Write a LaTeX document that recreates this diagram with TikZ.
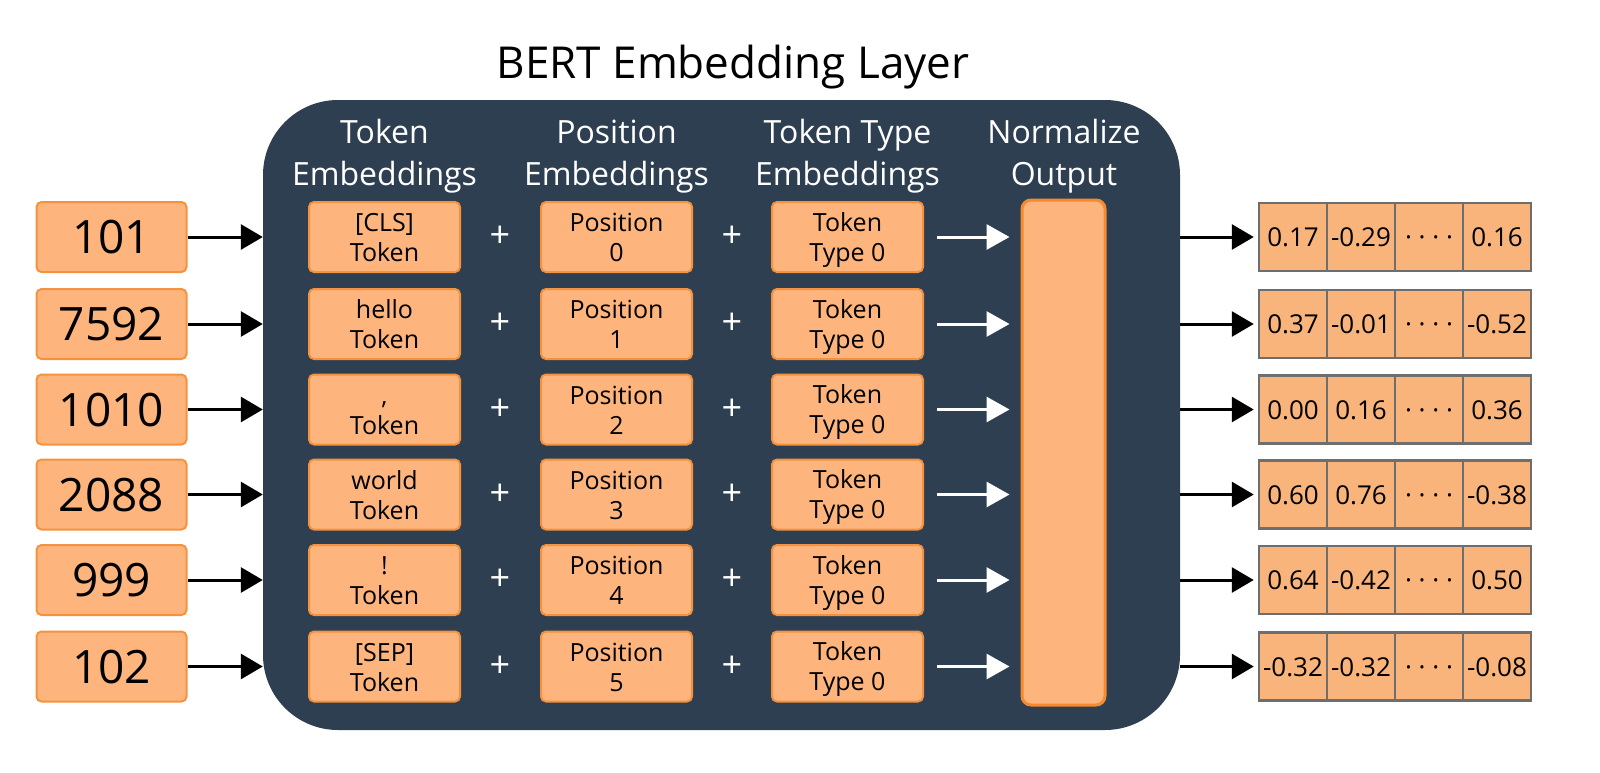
\documentclass[tikz,border=0pt]{standalone}
\usepackage{fontspec}
\setmainfont{Open Sans}
\usetikzlibrary{arrows.meta}
\definecolor{darkbg}{HTML}{2F3F52}
\definecolor{peachfill}{HTML}{FDB47D}
\definecolor{peachline}{HTML}{F5923E}
\definecolor{normline}{HTML}{F68A2E}
\definecolor{cellfill}{HTML}{F8B47B}
\definecolor{cellline}{HTML}{6E6E6E}
\newcommand\bxtop{\rule{0pt}{24pt}}
\newcommand\bxbot{\rule[-5pt]{0pt}{5pt}}
\newcommand\hdtop{\rule{0pt}{30pt}}
\newcommand\hdbot{\rule[-8pt]{0pt}{8pt}}
\tikzset{
  layerbox/.style={fill=darkbg, draw=none, rounded corners=75pt, minimum width=917pt, minimum height=630pt, inner sep=0pt},
  hdr/.style={text=white, align=center, inner sep=0pt, font=\fontsize{32}{42}\selectfont},
  inbox/.style={fill=peachfill, draw=peachline, line width=2pt, rounded corners=5pt, minimum width=150pt, minimum height=70pt, inner sep=0pt, text height=33pt, text depth=0pt, font=\fontsize{46}{50}\selectfont},
  embox/.style={fill=peachfill, draw=peachline, line width=2pt, rounded corners=5pt, minimum width=151pt, minimum height=70pt, inner sep=0pt, align=center, font=\fontsize{25}{30}\selectfont},
  normbox/.style={fill=peachfill, draw=normline, line width=3pt, rounded corners=9pt, minimum width=83pt, minimum height=505pt, inner sep=0pt},
  plus/.style={text=white, inner sep=0pt, font=\fontsize{36}{40}\selectfont},
  cell/.style={fill=cellfill, draw=cellline, line width=2.5pt, minimum width=68pt, minimum height=68pt, inner sep=0pt, text height=19pt, text depth=0pt, font=\fontsize{26}{30}\selectfont},
  blk/.style={draw=black, line width=3pt, -{Triangle[length=22pt,width=25pt]}},
  wht/.style={draw=white, line width=3pt, -{Triangle[length=23pt,width=25pt]}},
}
\newcommand\bertrow[7]{%
  \node[inbox] (in#1) at (111.5,#2) {#3};
  \node[embox] (tok#1) at (384.5,#2) {\bxtop #4\\Token\bxbot};
  \node[plus] (pa#1) at (500,#2) {+};
  \node[embox] (pos#1) at (616.5,#2) {\bxtop Position\\#1\bxbot};
  \node[plus] (pb#1) at (732,#2) {+};
  \node[embox] (typ#1) at (847.5,#2) {\bxtop Token\\Type 0\bxbot};
  \node[cell] (c#1a) at (1293,#2) {#5};
  \node[cell] (c#1b) at (1361,#2) {#6};
  \node[cell] (c#1c) at (1429,#2) {· · · ·};
  \node[cell] (c#1d) at (1497,#2) {#7};
  \draw[blk] (in#1.east) -- (in#1.east -| layer.west);
  \draw[wht, shorten <=13pt, shorten >=11pt] (typ#1.east) -- (typ#1.east -| norm.west);
  \draw[blk, shorten >=4pt] (c#1a.west -| layer.east) -- (c#1a.west);
}
\begin{document}
\begin{tikzpicture}[x=1pt,y=-1pt]
\useasboundingbox (0,0) rectangle (1600,772);
\node[anchor=base, font=\fontsize{44}{50}\selectfont] (title) at (733,78) {BERT Embedding Layer};
\node[layerbox] (layer) at (721.5,415) {};
\node[hdr] (h1) at (384.5,153) {\hdtop Token\\Embeddings\hdbot};
\node[hdr] (h2) at (616.5,153) {\hdtop Position\\Embeddings\hdbot};
\node[hdr] (h3) at (847.5,153) {\hdtop Token Type\\Embeddings\hdbot};
\node[hdr] (h4) at (1064,153) {\hdtop Normalize\\Output\hdbot};
\node[normbox] (norm) at (1063.5,452.5) {};
\bertrow{0}{237}{101}{[CLS]}{0.17}{-0.29}{0.16}
\bertrow{1}{324}{7592}{hello}{0.37}{-0.01}{-0.52}
\bertrow{2}{409.5}{1010}{,}{0.00}{0.16}{0.36}
\bertrow{3}{494.5}{2088}{world}{0.60}{0.76}{-0.38}
\bertrow{4}{580}{999}{!}{0.64}{-0.42}{0.50}
\bertrow{5}{666.5}{102}{[SEP]}{-0.32}{-0.32}{-0.08}
\end{tikzpicture}
\end{document}
